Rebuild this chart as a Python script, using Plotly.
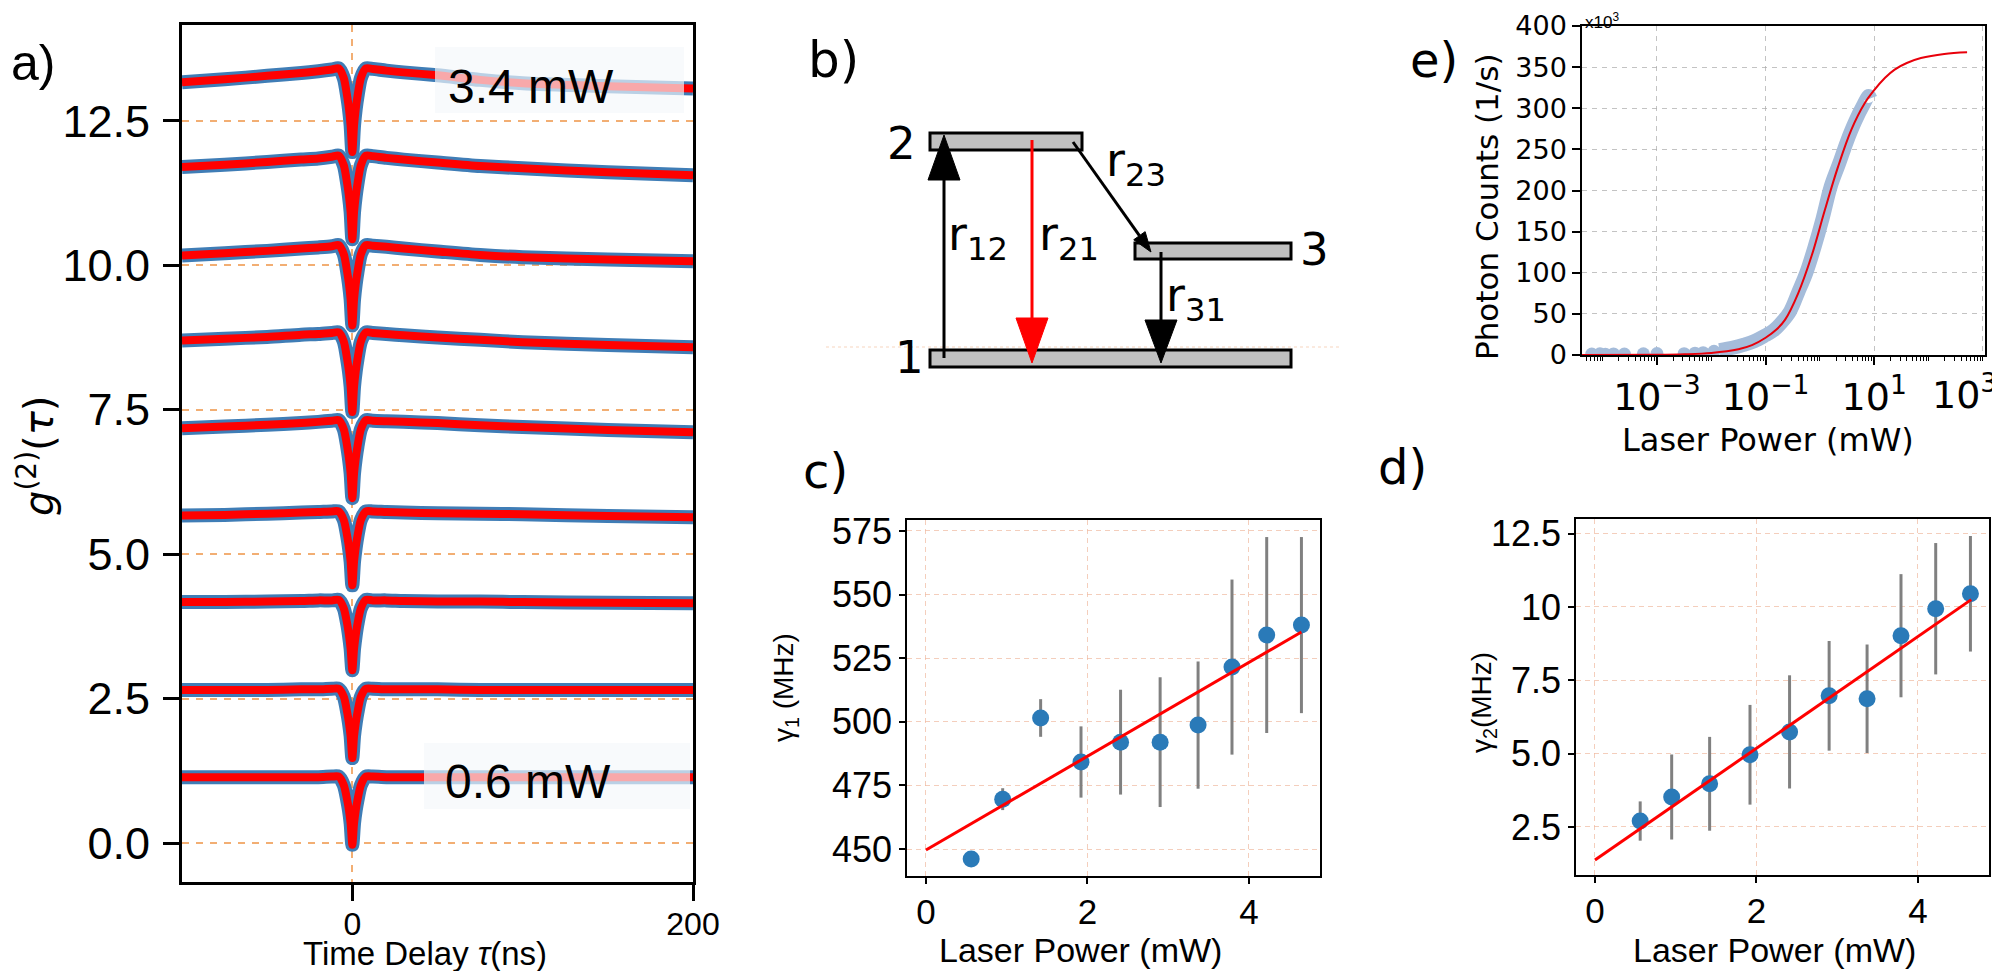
import numpy as np
import plotly.graph_objects as go

# page is offset by the browser's default 8px body margin; size the figure to fill the rest
PAGE_W, PAGE_H, OFF = 2000, 971, 8
W, H = PAGE_W - OFF, PAGE_H - OFF
ARIAL = "Liberation Sans, Arial, sans-serif"
DEJAVU = "DejaVu Sans, sans-serif"

# ---------------- panel a : g2(tau) curves ----------------
TAU_NS = [-100, -75, -50, -30, -20, -12, -8, -5, -3, -2, -1, 0, 1, 2, 3, 5, 8, 12, 20, 30, 50, 75, 100, 150, 200]
OFFSETS = [0.0, 1.5, 3.0, 4.5, 6.0, 7.5, 9.0, 10.5, 12.0]
G2_0 = [1.14, 1.14, 1.14, 1.14, 1.14, 1.15, 1.15, 1.00, 0.74, 0.57, 0.34, -0.03, 0.34, 0.57, 0.74, 1.00, 1.15, 1.15, 1.14, 1.14, 1.14, 1.14, 1.14, 1.14, 1.14]
G2_1 = [1.15, 1.15, 1.15, 1.16, 1.16, 1.17, 1.17, 1.03, 0.76, 0.58, 0.35, -0.03, 0.35, 0.58, 0.76, 1.03, 1.17, 1.17, 1.16, 1.16, 1.16, 1.15, 1.15, 1.15, 1.15]
G2_2 = [1.17, 1.17, 1.18, 1.19, 1.20, 1.20, 1.21, 1.06, 0.79, 0.60, 0.36, -0.01, 0.36, 0.60, 0.79, 1.06, 1.21, 1.20, 1.20, 1.19, 1.18, 1.18, 1.17, 1.16, 1.15]
G2_3 = [1.17, 1.18, 1.20, 1.22, 1.23, 1.24, 1.24, 1.09, 0.81, 0.62, 0.37, -0.04, 0.37, 0.62, 0.81, 1.09, 1.24, 1.24, 1.23, 1.22, 1.21, 1.20, 1.19, 1.16, 1.14]
G2_4 = [1.18, 1.21, 1.24, 1.27, 1.29, 1.31, 1.32, 1.16, 0.86, 0.66, 0.40, -0.03, 0.40, 0.66, 0.86, 1.16, 1.32, 1.31, 1.30, 1.29, 1.27, 1.23, 1.20, 1.15, 1.11]
G2_5 = [1.20, 1.23, 1.26, 1.30, 1.31, 1.33, 1.34, 1.18, 0.87, 0.67, 0.40, -0.04, 0.40, 0.67, 0.87, 1.18, 1.34, 1.33, 1.31, 1.29, 1.25, 1.21, 1.17, 1.12, 1.08]
G2_6 = [1.17, 1.21, 1.25, 1.29, 1.31, 1.33, 1.35, 1.19, 0.88, 0.68, 0.41, -0.04, 0.41, 0.68, 0.88, 1.19, 1.35, 1.34, 1.32, 1.29, 1.24, 1.18, 1.14, 1.10, 1.07]
G2_7 = [1.20, 1.24, 1.29, 1.33, 1.35, 1.38, 1.40, 1.23, 0.91, 0.70, 0.42, -0.05, 0.42, 0.70, 0.91, 1.23, 1.40, 1.39, 1.36, 1.33, 1.28, 1.22, 1.18, 1.11, 1.06]
G2_8 = [1.17, 1.22, 1.28, 1.33, 1.36, 1.39, 1.41, 1.24, 0.92, 0.71, 0.42, -0.04, 0.42, 0.71, 0.92, 1.24, 1.41, 1.40, 1.37, 1.34, 1.29, 1.21, 1.15, 1.10, 1.06]
G2_CURVES = [G2_0, G2_1, G2_2, G2_3, G2_4, G2_5, G2_6, G2_7, G2_8]
A_YTICKS = [0.0, 2.5, 5.0, 7.5, 10.0, 12.5]
A_XTICKS = [0, 200]
LOW_LABEL, HIGH_LABEL = "0.6 mW", "3.4 mW"

# ---------------- panel e : saturation ----------------
LOGP_FIT = [-4.38, -3.0, -2.5, -2.0, -1.5, -1.25, -1.0, -0.8, -0.64, -0.4, -0.155, 0.09, 0.335, 0.58, 0.825, 1.0, 1.2, 1.376, 1.6, 1.86, 2.29, 2.71]
COUNTS_FIT_K = [0.0, 0.3, 0.9, 2.5, 7.0, 12.0, 21.0, 31.0, 43.0, 75.0, 120.0, 176.0, 229.0, 274.0, 306.0, 322.0, 337.0, 347.0, 355.0, 361.0, 366.0, 368.0]
LOGP_LOW = [-4.2, -4.05, -3.95, -3.8, -3.6, -3.25, -3.0, -2.5, -2.3, -2.15, -1.95]
COUNTS_LOW_K = [1.2, 1.5, 1.0, 1.3, 1.2, 1.4, 1.8, 1.6, 2.2, 2.8, 4.5]
LOGP_DATA = [-1.85, -1.6, -1.4, -1.2, -1.0, -0.85, -0.7, -0.55, -0.4, -0.25, -0.1, 0.05, 0.2, 0.35, 0.5, 0.65, 0.8, 0.9, 0.93]
COUNTS_DATA_K = [6.0, 9.0, 12.5, 17.0, 24.0, 30.0, 40.0, 53.0, 76.0, 100.0, 131.0, 166.0, 205.0, 232.0, 260.0, 284.0, 304.0, 315.0, 312.0]
E_XTICKS = [1e-3, 1e-1, 1e1, 1e3]
E_XTICKTEXT = ["10<sup>\u22123</sup>", "10<sup>\u22121</sup>", "10<sup>1</sup>", ""]
E_LAST_TICKTEXT = "10<sup>3</sup>"
E_MINOR = [m * 10.0 ** k for k in range(-5, 4) for m in range(1, 10)]

# ---------------- panels c, d : rates ----------------
POWER_MW = [0.56, 0.95, 1.42, 1.92, 2.41, 2.90, 3.37, 3.79, 4.22, 4.65]
GAMMA1_MHZ = [446.1, 469.6, 501.5, 484.2, 492.0, 492.0, 498.7, 521.5, 534.1, 538.0]
GAMMA1_ERR = [0.5, 4.3, 7.4, 14.0, 20.6, 25.5, 25.0, 34.4, 38.5, 34.6]
FIT1_X = [0.0, 4.65]
FIT1_Y = [449.6, 535.3]
GAMMA2_MHZ = [2.70, 3.52, 3.97, 4.96, 5.74, 6.97, 6.87, 9.02, 9.94, 10.45]
GAMMA2_ERR = [0.67, 1.45, 1.60, 1.70, 1.93, 1.87, 1.85, 2.10, 2.24, 1.97]
FIT2_X = [0.0, 4.66]
FIT2_Y = [1.37, 10.25]
C_YTICKS = [450, 475, 500, 525, 550, 575]
D_YTICKS = [2.5, 5.0, 7.5, 10.0, 12.5]
D_YTICKTEXT = ["2.5", "5.0", "7.5", "10", "12.5"]
CD_XTICKS = [0, 2, 4]


def fx(px):
    return (px - OFF) / W


def fy(py):
    return 1 - (py - OFF) / H


fig = go.Figure()

# panel a traces
BLUE_A = "#3f7db6"
for off, g2 in zip(OFFSETS, G2_CURVES):
    yv = np.array(g2) + off
    fig.add_trace(go.Scatter(x=TAU_NS, y=yv, mode="lines", xaxis="x", yaxis="y",
                             line=dict(color=BLUE_A, width=14, shape="spline", smoothing=0.7),
                             hoverinfo="skip"))
for off, g2 in zip(OFFSETS, G2_CURVES):
    yv = np.array(g2) + off
    fig.add_trace(go.Scatter(x=TAU_NS, y=yv, mode="lines", xaxis="x", yaxis="y",
                             line=dict(color="#ff0000", width=8, shape="spline", smoothing=0.7),
                             hoverinfo="skip"))

# panel e traces
DATA_E = "#a5bcda"
fig.add_trace(go.Scatter(x=np.power(10.0, LOGP_DATA), y=COUNTS_DATA_K, mode="lines",
                         line=dict(color=DATA_E, width=14, shape="spline"), xaxis="x2", yaxis="y2"))
fig.add_trace(go.Scatter(x=np.power(10.0, LOGP_LOW), y=COUNTS_LOW_K, mode="markers",
                         marker=dict(color=DATA_E, size=13), xaxis="x2", yaxis="y2"))
fig.add_trace(go.Scatter(x=np.power(10.0, LOGP_FIT), y=COUNTS_FIT_K, mode="lines",
                         line=dict(color="#e8000b", width=2, shape="spline"), xaxis="x2", yaxis="y2"))

# panel c
C0 = "#2a7ab8"
fig.add_trace(go.Scatter(x=POWER_MW, y=GAMMA1_MHZ, mode="markers", xaxis="x3", yaxis="y3",
                         marker=dict(color=C0, size=17),
                         error_y=dict(type="data", array=GAMMA1_ERR, color="#808080", thickness=3, width=0)))
fig.add_trace(go.Scatter(x=FIT1_X, y=FIT1_Y, mode="lines", xaxis="x3", yaxis="y3",
                         line=dict(color="#ff0000", width=3)))
# panel d
fig.add_trace(go.Scatter(x=POWER_MW, y=GAMMA2_MHZ, mode="markers", xaxis="x4", yaxis="y4",
                         marker=dict(color=C0, size=17),
                         error_y=dict(type="data", array=GAMMA2_ERR, color="#808080", thickness=3, width=0)))
fig.add_trace(go.Scatter(x=FIT2_X, y=FIT2_Y, mode="lines", xaxis="x4", yaxis="y4",
                         line=dict(color="#ff0000", width=3)))

GRID_A = "rgba(240,160,90,0.85)"
GRID_CD = "rgba(240,185,160,0.7)"
GRID_E = "rgba(170,170,170,0.7)"

common_a = dict(showline=True, linecolor="black", linewidth=3, mirror=True, ticks="outside",
                ticklen=16, tickwidth=3, tickcolor="black", zeroline=False, showgrid=True,
                gridcolor=GRID_A, gridwidth=1.5, griddash="7px,7px", automargin=False,
                ticklabeloverflow="allow")
common_cd = dict(showline=True, linecolor="black", linewidth=1.6, mirror=True, ticks="outside",
                 ticklen=6, tickwidth=1.5, tickcolor="black", zeroline=False, showgrid=True,
                 gridcolor=GRID_CD, gridwidth=1, griddash="5px,4px", automargin=False,
                 ticklabeloverflow="allow")
common_e = dict(showline=True, linecolor="black", linewidth=1.5, mirror=True, ticks="outside",
                ticklen=8, tickwidth=1.5, tickcolor="black", zeroline=False,
                showgrid=True, gridcolor=GRID_E, gridwidth=1, griddash="5px,5px",
                automargin=False, ticklabeloverflow="allow")

fig.update_layout(
    width=W, height=H, autosize=False, showlegend=False,
    margin=dict(l=0, r=0, t=0, b=0, autoexpand=False),
    paper_bgcolor="white", plot_bgcolor="white",
    xaxis=dict(domain=[fx(182), fx(693)], range=[-100, 200], anchor="y",
               tickvals=A_XTICKS, ticktext=[str(v) for v in A_XTICKS], ticklabelstandoff=-4,
               tickfont=dict(family=ARIAL, size=32, color="black"), **common_a),
    yaxis=dict(domain=[fy(882), fy(25)], range=[-0.675, 14.16], anchor="x",
               tickvals=A_YTICKS, ticktext=["%.1f" % v for v in A_YTICKS],
               tickfont=dict(family=ARIAL, size=45, color="black"), ticklabelstandoff=4, **common_a),
    xaxis2=dict(domain=[fx(1582), fx(1985)], type="log", range=[-4.38, 3.04], anchor="y2",
                tickvals=E_XTICKS, ticktext=E_XTICKTEXT,
                tickfont=dict(family=DEJAVU, size=38, color="black"),
                minor=dict(tickvals=E_MINOR, ticks="outside", ticklen=4, tickwidth=1,
                           tickcolor="black", showgrid=False), **common_e),
    yaxis2=dict(domain=[fy(355), fy(26)], range=[0, 400], anchor="x2", dtick=50,
                tickfont=dict(family=DEJAVU, size=27, color="black"), **common_e),
    xaxis3=dict(domain=[fx(907), fx(1320)], range=[-0.235, 4.88], anchor="y3", ticklabelstandoff=-2,
                tickvals=CD_XTICKS, tickfont=dict(family=ARIAL, size=35, color="black"), **common_cd),
    yaxis3=dict(domain=[fy(876), fy(520)], range=[439.4, 579.3], anchor="x3",
                tickvals=C_YTICKS, tickfont=dict(family=ARIAL, size=36, color="black"), **common_cd),
    xaxis4=dict(domain=[fx(1576), fx(1989)], range=[-0.235, 4.88], anchor="y4", ticklabelstandoff=-2,
                tickvals=CD_XTICKS, tickfont=dict(family=ARIAL, size=35, color="black"), **common_cd),
    yaxis4=dict(domain=[fy(875), fy(519)], range=[0.86, 13.0], anchor="x4",
                tickvals=D_YTICKS, ticktext=D_YTICKTEXT,
                tickfont=dict(family=ARIAL, size=36, color="black"), **common_cd),
)

shapes = []
# legend-like boxes in panel a
BOX_FILL = "rgba(244,247,250,0.68)"
shapes.append(dict(type="rect", xref="paper", yref="paper", x0=fx(435), x1=fx(684), y0=fy(113), y1=fy(47),
                   fillcolor=BOX_FILL, line=dict(width=0), layer="above"))
shapes.append(dict(type="rect", xref="paper", yref="paper", x0=fx(424), x1=fx(690), y0=fy(809), y1=fy(743),
                   fillcolor=BOX_FILL, line=dict(width=0), layer="above"))

# panel b energy-level diagram (paper coordinates from pixel layout)
LEVELS = [(930, 1082, 133, 150), (1135, 1291, 243, 259), (930, 1291, 350, 367)]
shapes.append(dict(type="line", xref="paper", yref="paper", x0=fx(826), x1=fx(1340), y0=fy(347), y1=fy(347),
                   line=dict(color="rgba(240,180,140,0.55)", width=1, dash="dot")))
for x0, x1, y0, y1 in LEVELS:
    shapes.append(dict(type="rect", xref="paper", yref="paper", x0=fx(x0), x1=fx(x1), y0=fy(y1), y1=fy(y0),
                       fillcolor="#c0c0c0", line=dict(color="black", width=3)))


def arrow(xs, ys, xt, yt, head_len, half_w, color):
    d = np.array([xt - xs, yt - ys], dtype=float)
    u = d / np.hypot(*d)
    p = np.array([-u[1], u[0]])
    base = np.array([xt, yt]) - head_len * u
    c1 = base + half_w * p
    c2 = base - half_w * p
    out = [dict(type="line", xref="paper", yref="paper", x0=fx(xs), y0=fy(ys),
                x1=fx(base[0]), y1=fy(base[1]), line=dict(color=color, width=3))]
    path = "M %f,%f L %f,%f L %f,%f Z" % (fx(xt), fy(yt), fx(c1[0]), fy(c1[1]), fx(c2[0]), fy(c2[1]))
    out.append(dict(type="path", xref="paper", yref="paper", path=path, fillcolor=color,
                    line=dict(color=color, width=1)))
    return out


shapes += arrow(944, 358, 944, 135, 45, 16, "black")
shapes += arrow(1032, 140, 1032, 363, 45, 16, "#ff0000")
shapes += arrow(1161, 252, 1161, 363, 43, 16, "black")
shapes += arrow(1073, 142, 1151, 252, 20, 7, "black")

fig.update_layout(shapes=shapes)


def ann(text, x, y, size, family, xanchor="center", yanchor="middle", angle=0):
    return dict(text=text, x=fx(x), y=fy(y), xref="paper", yref="paper", showarrow=False,
                font=dict(size=size, family=family, color="black"), xanchor=xanchor,
                yanchor=yanchor, textangle=angle)


annotations = [
    ann("a)", 9, 63, 50, ARIAL, xanchor="left"),
    ann("b)", 806, 60, 50, DEJAVU, xanchor="left"),
    ann("c)", 801, 471, 48, DEJAVU, xanchor="left"),
    ann("d)", 1376, 467, 48, DEJAVU, xanchor="left"),
    ann("e)", 1408, 60, 48, DEJAVU, xanchor="left"),
    # panel a
    ann(HIGH_LABEL, 531, 86, 48, ARIAL),
    ann(LOW_LABEL, 528, 781, 48, ARIAL),
    ann("<i>g</i><sup>(2)</sup>(<i>\u03c4</i>)", 36, 456, 40, DEJAVU, angle=-90),
    ann("Time Delay <i>\u03c4</i>(ns)", 425, 953, 33, ARIAL),
    # panel b
    ann("2", 901, 144, 45, DEJAVU),
    ann("3", 1314, 250, 45, DEJAVU),
    ann("1", 909, 357, 45, DEJAVU),
    ann("r<sub>12</sub>", 946, 237, 46, DEJAVU, xanchor="left"),
    ann("r<sub>21</sub>", 1037, 237, 46, DEJAVU, xanchor="left"),
    ann("r<sub>23</sub>", 1104, 163, 46, DEJAVU, xanchor="left"),
    ann("r<sub>31</sub>", 1164, 299, 46, DEJAVU, xanchor="left"),
    # panel e
    ann("x10<sup>3</sup>", 1583, 8, 17, ARIAL, xanchor="left", yanchor="top"),
    ann(E_LAST_TICKTEXT, 1999, 365, 38, DEJAVU, xanchor="right", yanchor="top"),
    ann("Photon Counts (1/s)", 1487, 207, 31, DEJAVU, angle=-90),
    ann("Laser Power (mW)", 1768, 440, 32, DEJAVU),
    # panels c, d
    ann("Laser Power (mW)", 1080, 950, 34, ARIAL),
    ann("Laser Power (mW)", 1774, 950, 34, ARIAL),
    ann("\u03b3<sub>1</sub> (MHz)", 785, 688, 28, ARIAL, angle=-90),
    ann("\u03b3<sub>2</sub>(MHz)", 1483, 703, 28, ARIAL, angle=-90),
]
fig.update_layout(annotations=annotations)

fig.write_html("out.html")
